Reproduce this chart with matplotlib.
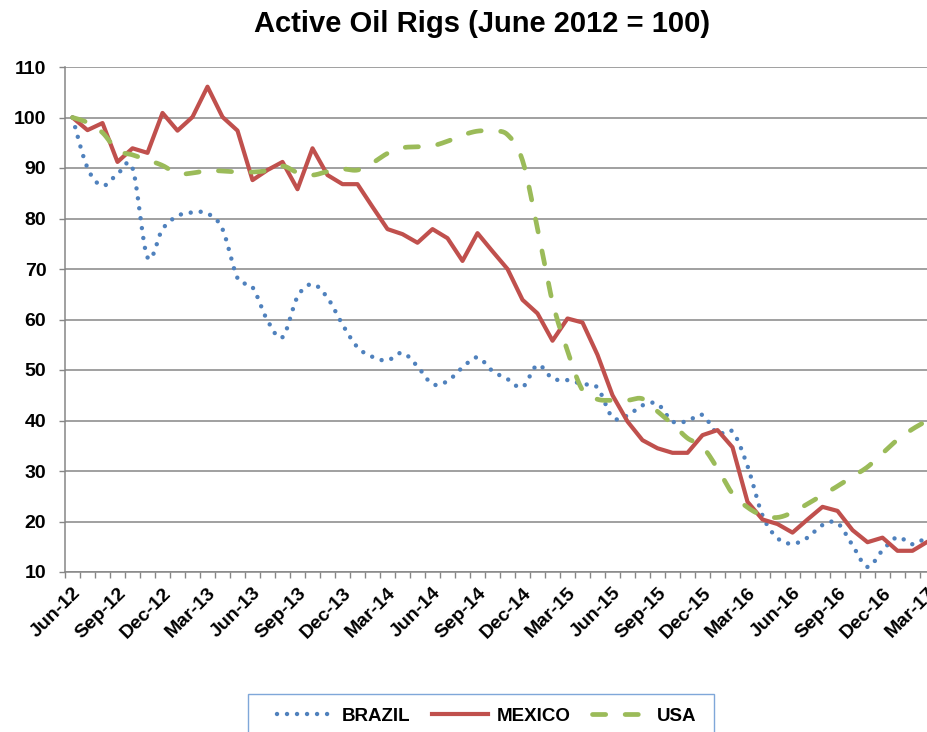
import numpy as np
import matplotlib
matplotlib.use("Agg")
import matplotlib.pyplot as plt
from matplotlib.lines import Line2D
from matplotlib.patches import Rectangle

plt.rcParams['font.family'] = ['Liberation Sans', 'DejaVu Sans']
plt.rcParams['lines.scale_dashes'] = False

# ---------------- data (monthly, Jun-12 .. Mar-17, June 2012 = 100) ----------------
brazil = [100, 90.0, 86.5, 88.8, 90.0, 72.3, 77.9, 80.5, 81.2, 81.0,
          77.9, 68.2, 66.4, 59.8, 56.5, 64.5, 67.0, 64.3, 59.0, 54.5,
          52.6, 51.9, 53.4, 50.7, 47.2, 47.8, 50.5, 52.5, 49.8, 48.2,
          46.6, 51.0, 48.3, 48.0, 47.2, 46.5, 40.6, 41.0, 43.0, 43.3,
          39.8, 39.9, 41.1, 37.4, 37.8, 31.0, 21.2, 16.7, 15.6, 16.8,
          19.3, 19.7, 15.3, 11.0, 14.3, 16.9, 15.5, 17.0]
mexico = [100, 97.5, 98.9, 91.2, 93.9, 93.0, 100.9, 97.4, 100.1, 106.1,
          100.1, 97.4, 87.6, 89.6, 91.2, 85.8, 93.9, 88.6, 86.8, 86.8,
          82.3, 77.9, 76.9, 75.2, 77.9, 76.1, 71.6, 77.1, 73.5, 70.0,
          63.9, 61.2, 55.8, 60.2, 59.4, 53.0, 45.0, 39.8, 36.1, 34.5,
          33.6, 33.6, 37.1, 38.1, 34.7, 23.9, 20.4, 19.5, 17.8, 20.4,
          22.9, 22.1, 18.3, 15.9, 16.8, 14.2, 14.2, 16.0]
usa = [100, 99.0, 97.0, 93.5, 92.6, 91.6, 90.5, 88.9, 89.0, 89.5,
       89.4, 89.2, 89.2, 89.5, 90.4, 89.1, 88.6, 89.3, 89.8, 89.6,
       91.0, 92.9, 94.0, 94.2, 94.4, 95.3, 96.5, 97.3, 97.3, 96.6,
       91.5, 78.0, 63.5, 53.8, 46.0, 44.2, 44.0, 44.0, 44.3, 41.8,
       39.3, 36.5, 34.8, 30.5, 25.5, 22.8, 21.2, 20.8, 21.8, 23.5,
       25.2, 27.0, 28.9, 30.8, 33.5, 36.2, 38.3, 40.0]
series_names = ['BRAZIL', 'MEXICO', 'USA']
tick_labels = ['Jun-12', 'Sep-12', 'Dec-12', 'Mar-13', 'Jun-13', 'Sep-13', 'Dec-13',
               'Mar-14', 'Jun-14', 'Sep-14', 'Dec-14', 'Mar-15', 'Jun-15', 'Sep-15',
               'Dec-15', 'Mar-16', 'Jun-16', 'Sep-16', 'Dec-16', 'Mar-17']
y_ticks = [10, 20, 30, 40, 50, 60, 70, 80, 90, 100, 110]
title = 'Active Oil Rigs (June 2012 = 100)'


def smooth(xs, ys, n=16):
    """Excel-style smoothed line (Bezier through every data point)."""
    P = np.column_stack([xs, ys]).astype(float)
    out = []
    t = np.linspace(0, 1, n, endpoint=False)[:, None]
    for i in range(len(P) - 1):
        p0 = P[i - 1] if i > 0 else P[i]
        p1, p2 = P[i], P[i + 1]
        p3 = P[i + 2] if i + 2 < len(P) else P[i + 1]
        c1 = p1 + (p2 - p0) / 6.0
        c2 = p2 - (p3 - p1) / 6.0
        out.append((1 - t) ** 3 * p1 + 3 * (1 - t) ** 2 * t * c1
                   + 3 * (1 - t) * t ** 2 * c2 + t ** 3 * p2)
    out.append(P[-1:])
    out = np.vstack(out)
    return out[:, 0], out[:, 1]


W, H = 927, 732
fig = plt.figure(figsize=(W / 100, H / 100), dpi=100)
fig.patch.set_facecolor('white')
ax = fig.add_axes([65 / W, 1 - 572 / H, 870 / W, 505 / H])

x = np.arange(len(mexico))
grey = '#868686'

bx, by = smooth(x, brazil)
ax.plot(bx, by, color='#4F81BD', lw=3.2, linestyle=(0, (0.01, 7.2)),
        dash_capstyle='round', zorder=3)
ax.plot(x, mexico, color='#C0504D', lw=3.0, solid_joinstyle='round',
        solid_capstyle='round', zorder=4)
ux, uy = smooth(x, usa)
ax.plot(ux, uy, color='#9BBB59', lw=3.4, linestyle=(0, (9.5, 14)),
        dash_capstyle='round', zorder=5)

ax.set_xlim(-0.5, len(mexico) - 0.5)
ax.set_ylim(10, 110)
ax.set_yticks(y_ticks)
ax.set_yticklabels([str(v) for v in y_ticks], fontsize=14, fontweight='bold')
ax.set_xticks(np.arange(0, len(mexico), 3))
ax.set_xticklabels(tick_labels, fontsize=14, fontweight='bold', rotation=45,
                   ha='right', va='top', rotation_mode='anchor')
ax.set_xticks(np.arange(-0.5, len(mexico), 1), minor=True)
ax.tick_params(axis='x', which='major', length=0, pad=9)
ax.tick_params(axis='x', which='minor', length=4.5, width=1, color=grey, direction='out')
ax.tick_params(axis='y', which='major', length=4.5, width=1, color=grey, pad=9)
ax.yaxis.grid(True, color=grey, lw=1.1)
ax.set_axisbelow(True)
for s in ['top', 'right']:
    ax.spines[s].set_visible(False)
for s in ['left', 'bottom']:
    ax.spines[s].set_color(grey)
    ax.spines[s].set_linewidth(1.1)

fig.text(482 / W, 1 - 24 / H, title, fontsize=21, fontweight='bold',
         ha='center', va='center')

# legend frame (cut by the bottom edge, as in the reference)
fig.patches.append(Rectangle((248 / W, 1 - 742 / H), 466 / W, 48 / H,
                             transform=fig.transFigure, fill=False,
                             edgecolor='#7FA7D9', lw=1.0))
handles = [Line2D([], [], color='#4F81BD', lw=3.2, linestyle=(0, (0.01, 7.2)),
                  dash_capstyle='round'),
           Line2D([], [], color='#C0504D', lw=3.0),
           Line2D([], [], color='#9BBB59', lw=3.4, linestyle=(0, (9.5, 14)),
                  dash_capstyle='round')]
leg = fig.legend(handles, series_names, loc='center',
                 bbox_to_anchor=(486.5 / W, 1 - 716 / H), ncol=3,
                 prop={'weight': 'bold', 'size': 13.5}, frameon=False,
                 handlelength=3.0, handletextpad=0.45, columnspacing=1.15,
                 borderpad=0, borderaxespad=0)

fig.savefig('out.png', dpi=100)
